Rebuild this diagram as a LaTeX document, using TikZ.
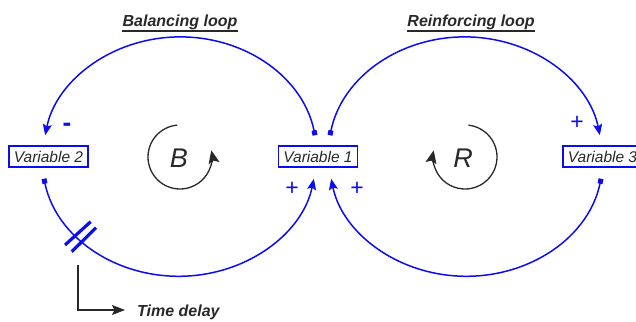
\documentclass[tikz,border=0pt]{standalone}
\usepackage{fontspec}
\setmainfont{Liberation Sans}
\usetikzlibrary{arrows.meta}
\definecolor{cldblue}{RGB}{12,12,240}
\definecolor{txtgray}{RGB}{40,40,40}
\tikzset{
  varbox/.style={draw=cldblue, line width=1.5pt, minimum width=79pt, minimum height=21pt, inner sep=0pt, text=txtgray, font=\itshape\fontsize{15.5}{18}\selectfont},
  link/.style={draw=cldblue, line width=1.5pt, {Square[length=5pt,width=5pt]}-{Stealth[length=11pt,width=9pt,inset=2pt]}},
  signtxt/.style={text=cldblue, font=\fontsize{23}{26}\selectfont, inner sep=0pt},
  minustxt/.style={text=cldblue, font=\bfseries\fontsize{26}{28}\selectfont, inner sep=0pt},
  loopline/.style={draw=txtgray, line width=1.3pt, -{Stealth[length=13pt,width=11pt,inset=2.5pt]}},
  looplbl/.style={text=txtgray, font=\itshape\fontsize{27}{30}\selectfont, inner sep=0pt},
  titletxt/.style={text=txtgray, font=\bfseries\itshape\fontsize{16}{19}\selectfont, inner sep=0pt},
  uline/.style={draw=txtgray, line width=1.3pt},
  delaymark/.style={draw=cldblue, line width=3.2pt},
  delayarrow/.style={draw=txtgray, line width=1.4pt, -{Stealth[length=13pt,width=10pt,inset=2.5pt]}}
}
\begin{document}
\begin{tikzpicture}[x=1pt,y=1pt]
\path[use as bounding box] (0,0) rectangle (636,321);
\clip (0,0) rectangle (636,321);
% variables
\node[varbox] (v2) at (48.5,164.5) {Variable 2};
\node[varbox] (v1) at (318,164.5) {Variable 1};
\node[varbox] (v3) at (602.5,164.5) {Variable 3};
% balancing loop arcs
\draw[link] ([shift={(-3,10)}]v1.north) arc[start angle=10,end angle=170,x radius=137,y radius=119];
\draw[link] ([shift={(-4.5,-11)}]v2.south) arc[start angle=190,end angle=350,x radius=137,y radius=118];
% reinforcing loop arcs
\draw[link] ([shift={(12,10)}]v1.north) arc[start angle=170,end angle=10,x radius=137,y radius=119];
\draw[link] ([shift={(-1.5,-11)}]v3.south) arc[start angle=350,end angle=190,x radius=137,y radius=118];
% signs
\node[minustxt] (s1) at (67,194) {-};
\node[signtxt] (s2) at (292,132) {+};
\node[signtxt] (s3) at (357,132) {+};
\node[signtxt] (s4) at (577,198) {+};
% loop symbols
\coordinate (bc) at (180,164);
\coordinate (rc) at (465,164);
\draw[loopline] (bc) ++(95:32) arc[start angle=95,end angle=372,radius=32];
\draw[loopline] (rc) ++(84:32) arc[start angle=84,end angle=-192,radius=32];
\node[looplbl] (lb) at (179,163) {B};
\node[looplbl] (lr) at (463,163) {R};
% titles
\node[titletxt, anchor=base] (tb) at (180,294.5) {Balancing loop};
\node[titletxt, anchor=base] (tr) at (471,294.5) {Reinforcing loop};
\draw[uline] ([yshift=-4.5pt]tb.base west) -- ([yshift=-4.5pt]tb.base east);
\draw[uline] ([yshift=-4.5pt]tr.base west) -- ([yshift=-4.5pt]tr.base east);
% time delay
\draw[delaymark] (65,76) -- (90.7,99.3);
\draw[delaymark] (71.7,69.3) -- (96,93.3);
\node[titletxt, anchor=base west] (td) at (137,5) {Time delay};
\coordinate (dstart) at (78,56);
\draw[delayarrow] (dstart) |- ([xshift=-12pt,yshift=6pt]td.base west);
\end{tikzpicture}
\end{document}
